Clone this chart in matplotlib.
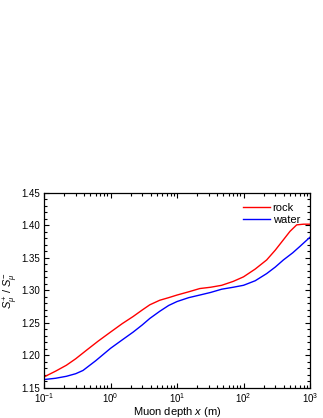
import matplotlib
matplotlib.use("Agg")
import matplotlib.pyplot as plt
from matplotlib.ticker import MultipleLocator, LogLocator

plt.rcParams['font.family'] = ['Liberation Sans', 'DejaVu Sans']
plt.rcParams['mathtext.fontset'] = 'custom'
plt.rcParams['mathtext.rm'] = 'Liberation Sans'
plt.rcParams['mathtext.it'] = 'Liberation Sans:italic'

# depth (m) and ratio values
rock_x = [0.1, 0.15, 0.217, 0.3, 0.434, 0.65, 1.0, 1.5, 2.19, 3.0, 3.9, 5.5, 7.5,
          10, 15, 22, 32, 47, 70, 100, 150, 223, 300, 398, 500, 631, 800, 1000]
rock_y = [1.167, 1.176, 1.185, 1.195, 1.208, 1.222, 1.236, 1.249, 1.260, 1.270,
          1.278, 1.285, 1.289, 1.293, 1.298, 1.303, 1.305, 1.308, 1.314, 1.321,
          1.333, 1.347, 1.362, 1.378, 1.391, 1.401, 1.402, 1.402]
water_x = [0.1, 0.15, 0.217, 0.3, 0.386, 0.6, 1.0, 1.5, 2.19, 3.0, 3.9, 5.5, 7.5,
           10, 15, 22, 32, 47, 70, 100, 150, 223, 300, 398, 550, 708, 1000]
water_y = [1.163, 1.165, 1.168, 1.172, 1.177, 1.192, 1.211, 1.224, 1.236, 1.247,
           1.257, 1.268, 1.277, 1.283, 1.289, 1.293, 1.297, 1.302, 1.305, 1.308,
           1.315, 1.326, 1.336, 1.347, 1.358, 1.368, 1.382]

fig = plt.figure(figsize=(3.23, 4.18), dpi=100)
ax = fig.add_axes([44 / 323, 1 - 388 / 418, 266 / 323, 195 / 418])

ax.plot(rock_x, rock_y, color='#ff0000', lw=1.0, label='rock')
ax.plot(water_x, water_y, color='#0000ff', lw=1.0, label='water')

ax.set_xscale('log')
ax.set_xlim(0.1, 1000)
ax.set_ylim(1.15, 1.45)
ax.yaxis.set_major_locator(MultipleLocator(0.05))
ax.yaxis.set_minor_locator(MultipleLocator(0.01))
ax.xaxis.set_major_locator(LogLocator(base=10))
ax.xaxis.set_minor_locator(LogLocator(base=10, subs=range(2, 10)))
ax.yaxis.set_major_formatter(matplotlib.ticker.FormatStrFormatter('%.2f'))

ax.tick_params(which='both', direction='in', top=True, right=True, labelsize=7,
               width=0.8, pad=2.5)
ax.tick_params(which='major', length=3.5)
ax.tick_params(which='minor', length=2)
for s in ax.spines.values():
    s.set_linewidth(0.9)

ax.set_xlabel('Muon depth $\\mathit{x}$ (m)', fontsize=8, labelpad=0)
ax.set_ylabel('$\\mathit{S}_{\\mu}^{+}$ / $\\mathit{S}_{\\mu}^{-}$', fontsize=8, labelpad=1)

ax.legend(loc='upper right', frameon=False, fontsize=8, handlelength=2.5,
          handletextpad=0.2, borderaxespad=0.5, labelspacing=0.15)

fig.savefig('out.png', dpi=100)
